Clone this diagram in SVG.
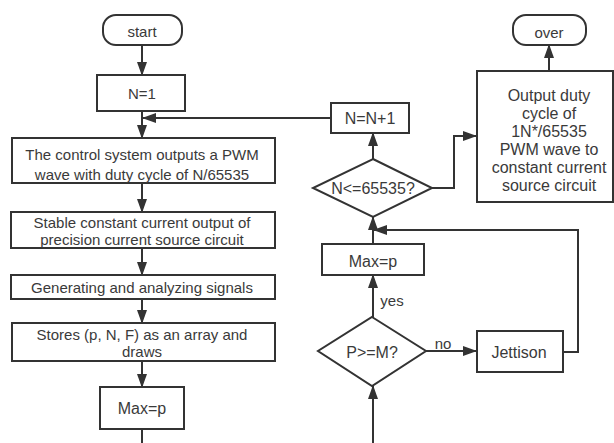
<svg xmlns="http://www.w3.org/2000/svg" width="614" height="443" viewBox="0 0 614 443">
<style>
.box{fill:#fff;stroke:#333;stroke-width:2}
.ln{fill:none;stroke:#333;stroke-width:2}
.t{font-family:"Liberation Sans","Noto Sans",sans-serif;font-size:15px;fill:#3a3a3a;text-anchor:middle;dominant-baseline:central}
.big{font-size:16px}
</style>
<defs>
<marker id="ah" markerUnits="userSpaceOnUse" markerWidth="14" markerHeight="10" refX="13" refY="5" orient="auto" viewBox="0 0 14 10">
<path d="M0,0 L14,5 L0,10 z" fill="#333"/>
</marker>
</defs>
<rect width="614" height="443" fill="#fff"/>
<g id="connectors">
<line class="ln" x1="142" y1="45" x2="142" y2="75" marker-end="url(#ah)"/>
<line class="ln" x1="142" y1="111" x2="142" y2="138" marker-end="url(#ah)"/>
<line class="ln" x1="331" y1="118" x2="143" y2="118" marker-end="url(#ah)"/>
<line class="ln" x1="142" y1="183" x2="142" y2="212" marker-end="url(#ah)"/>
<line class="ln" x1="142" y1="248" x2="142" y2="275" marker-end="url(#ah)"/>
<line class="ln" x1="142" y1="299" x2="142" y2="323" marker-end="url(#ah)"/>
<line class="ln" x1="142" y1="361" x2="142" y2="387" marker-end="url(#ah)"/>
<line class="ln" x1="142" y1="429" x2="142" y2="443"/>
<line class="ln" x1="373" y1="159" x2="373" y2="133" marker-end="url(#ah)"/>
<polyline class="ln" points="432,188 454,188 454,136 476,136" marker-end="url(#ah)"/>
<line class="ln" x1="549" y1="71" x2="549" y2="45" marker-end="url(#ah)"/>
<line class="ln" x1="373" y1="244" x2="373" y2="217" marker-end="url(#ah)"/>
<polyline class="ln" points="563,352 578,352 578,230 374,230" marker-end="url(#ah)"/>
<line class="ln" x1="373" y1="317" x2="373" y2="275" marker-end="url(#ah)"/>
<line class="ln" x1="426" y1="351" x2="476" y2="351" marker-end="url(#ah)"/>
<line class="ln" x1="373" y1="443" x2="373" y2="386" marker-end="url(#ah)"/>
<text class="t" x="392" y="300">yes</text>
<text class="t" x="443" y="343">no</text>
</g>
<g id="start">
<rect class="box" x="103" y="15" width="79" height="30" rx="13"/>
<text class="t" x="142" y="31">start</text>
</g>
<g id="n1">
<rect class="box" x="97" y="75" width="88" height="36"/>
<text class="t" x="142" y="93">N=1</text>
</g>
<g id="control">
<rect class="box" x="12" y="138" width="263" height="45"/>
<text class="t" x="142" y="154">The control system outputs a PWM</text>
<text class="t" x="142" y="174">wave with duty cycle of N/65535</text>
</g>
<g id="stable">
<rect class="box" x="11" y="212" width="264" height="36"/>
<text class="t" x="142" y="222">Stable constant current output of</text>
<text class="t" x="142" y="239">precision current source circuit</text>
</g>
<g id="generating">
<rect class="box" x="11" y="275" width="264" height="24"/>
<text class="t" x="142" y="287">Generating and analyzing signals</text>
</g>
<g id="stores">
<rect class="box" x="12" y="323" width="263" height="38"/>
<text class="t" x="142" y="334">Stores (p, N, F) as an array and</text>
<text class="t" x="142" y="351">draws</text>
</g>
<g id="max1">
<rect class="box" x="100" y="387" width="84" height="42"/>
<text class="t big" x="142" y="408">Max=p</text>
</g>
<g id="nn1">
<rect class="box" x="331" y="103" width="78" height="30"/>
<text class="t big" x="370" y="118">N=N+1</text>
</g>
<g id="cond1">
<polygon class="box" points="373,159 432,188 373,217 313,188"/>
<text class="t big" x="373" y="188">N&lt;=65535?</text>
</g>
<g id="output">
<rect class="box" x="477" y="71" width="136" height="131"/>
<text class="t big" x="549" y="95">Output duty</text>
<text class="t big" x="549" y="113">cycle of</text>
<text class="t big" x="549" y="131">1N*/65535</text>
<text class="t big" x="549" y="149">PWM wave to</text>
<text class="t big" x="549" y="167">constant current</text>
<text class="t big" x="549" y="185">source circuit</text>
</g>
<g id="over">
<rect class="box" x="513" y="15" width="73" height="30" rx="13"/>
<text class="t" x="549" y="32">over</text>
</g>
<g id="max2">
<rect class="box" x="322" y="244" width="102" height="31"/>
<text class="t big" x="373" y="261">Max=p</text>
</g>
<g id="cond2">
<polygon class="box" points="372,317 426,351 372,386 318,351"/>
<text class="t big" x="372" y="352">P&gt;=M?</text>
</g>
<g id="jettison">
<rect class="box" x="477" y="331" width="86" height="41"/>
<text class="t big" x="519" y="352">Jettison</text>
</g>
</svg>
